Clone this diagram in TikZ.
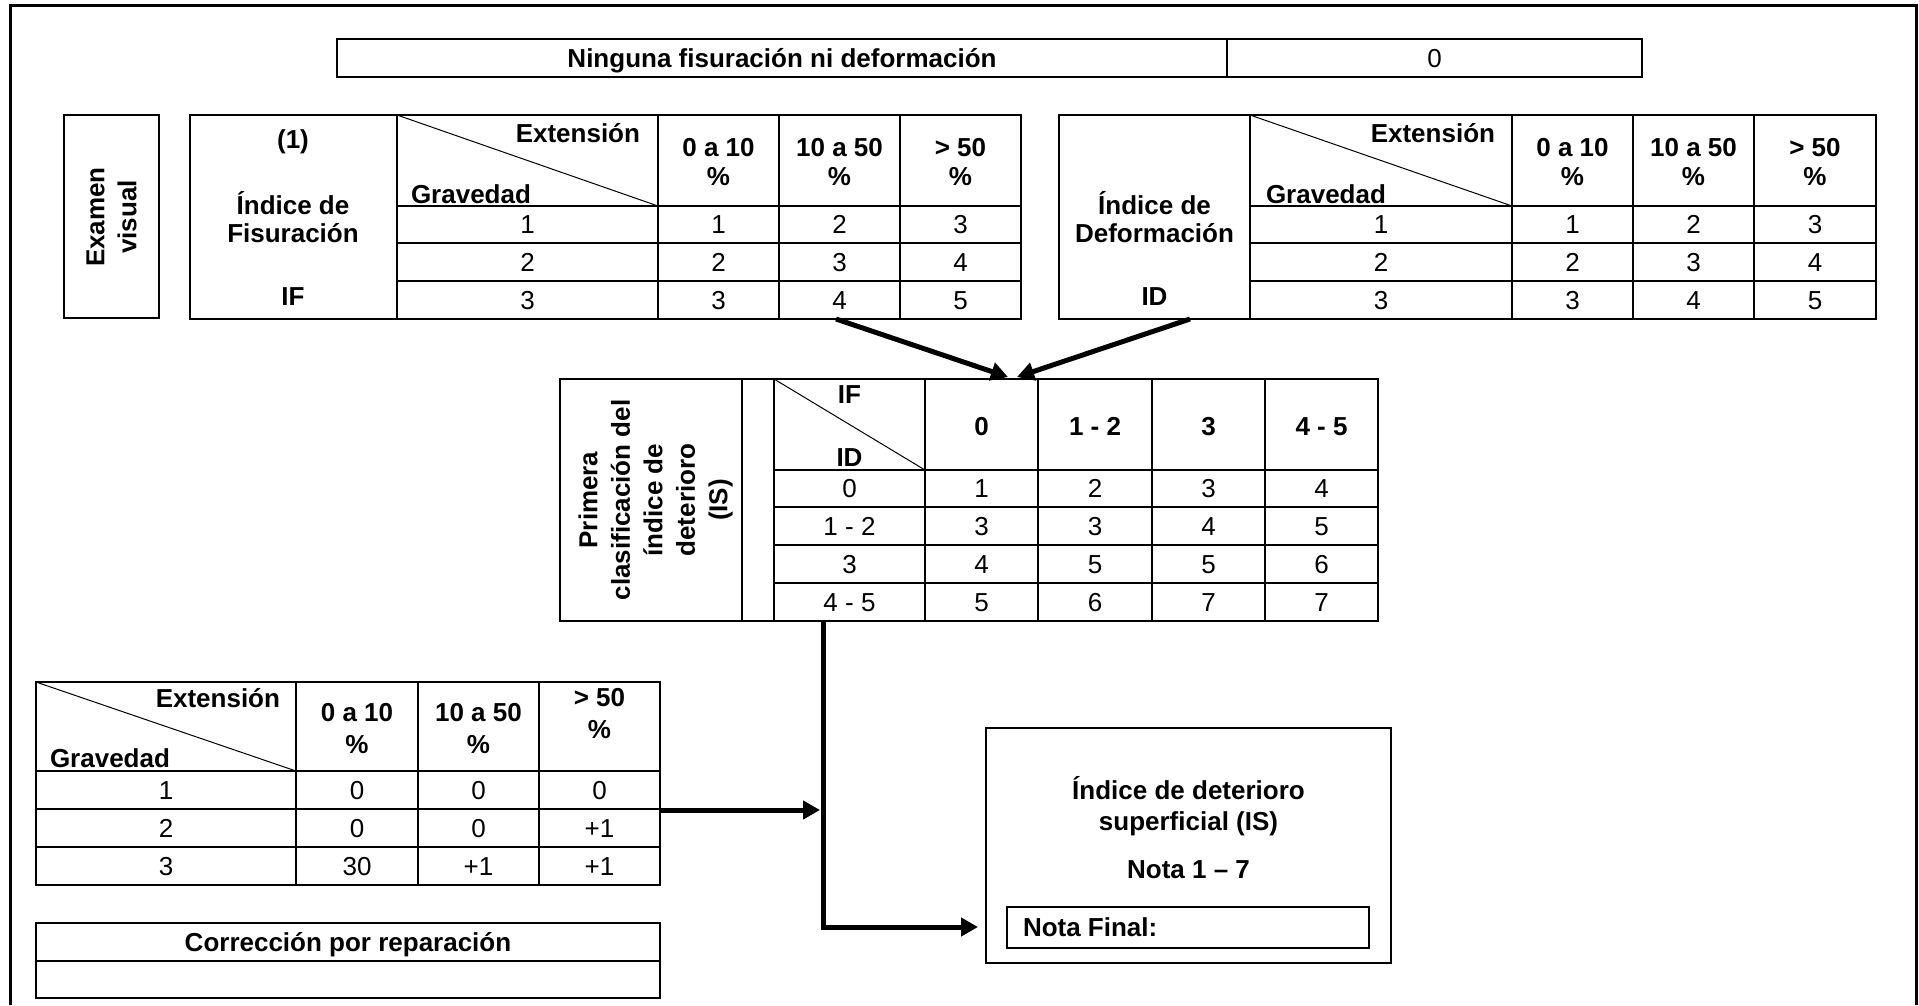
\documentclass[tikz,border=0pt]{standalone}
\usepackage{fontspec}
\setmainfont{Liberation Sans}
\usetikzlibrary{arrows.meta}
\newcommand\Bx[6][]{\node[boxn,#1,minimum width={(#5-#3)*1pt},minimum height={(#6-#4)*1pt}] (#2) at (#3,#4) {};}
\newcommand\Tx[5][txt]{\node[#1] (#2) at (#3,#4) {#5};}
\begin{document}
\begin{tikzpicture}[x=1pt,y=-1pt,
  frame/.style={line width=3pt},
  grid/.style={line width=2pt},
  diag/.style={line width=1pt},
  boxn/.style={draw, line width=2pt, anchor=north west, inner sep=0pt, outer sep=0pt},
  txt/.style={inner sep=0pt, outer sep=0pt, font=\fontsize{26}{30}\selectfont, text height=18.6pt, text depth=0pt},
  btxt/.style={txt, font=\fontsize{26}{30}\selectfont\bfseries},
  flow/.style={line width=5pt, -{Triangle[length=17pt,width=18pt]}}]
\useasboundingbox (0,0) rectangle (1919,1005);
\draw[frame] (10,1005) -- (10,5) -- (1916,5) -- (1916,1005);

% top box
\Bx[line width=2.5pt]{top}{337}{39}{1642}{77}
\draw[grid] (1227,39) -- (1227,77);
\Tx[btxt]{toptxt}{782}{58}{Ninguna fisuración ni deformación}
\Tx{topval}{1434.5}{58}{0}

% Examen visual
\Bx{exam}{64}{115}{159}{318}
\Tx[btxt,rotate=90]{ev1}{95}{217}{Examen}
\Tx[btxt,rotate=90]{ev2}{127}{217}{visual}

% IF table
\Bx{iftab}{190}{115}{1021}{319}
\foreach \x in {397,658,779,900} {\draw[grid] (\x,115) -- (\x,319);}
\foreach \y in {206,243,281} {\draw[grid] (397,\y) -- (1021,\y);}
\draw[diag] (397,115) -- (658,206);
\Tx[btxt]{ifa}{293}{139}{(1)}
\Tx[btxt]{ifb}{293}{205}{Índice de}
\Tx[btxt]{ifc}{293}{233}{Fisuración}
\Tx[btxt]{ifd}{293}{296}{IF}
\Tx[btxt,anchor=east]{ifext}{640}{133}{Extensión}
\Tx[btxt,anchor=west]{ifgrav}{411}{194}{Gravedad}
\Tx[btxt]{ifh1a}{718.5}{147}{0 a 10}
\Tx[btxt]{ifh1b}{718.5}{176}{\%}
\Tx[btxt]{ifh2a}{839.5}{147}{10 a 50}
\Tx[btxt]{ifh2b}{839.5}{176}{\%}
\Tx[btxt]{ifh3a}{960.5}{147}{> 50}
\Tx[btxt]{ifh3b}{960.5}{176}{\%}
\foreach \r/\y in {1/224.5,2/262,3/300} {
  \Tx{ifr\r}{527.5}{\y}{\r}
  \foreach \c/\x in {1/718.5,2/839.5,3/960.5} {
    \pgfmathtruncatemacro\v{\r+\c-1}
    \Tx{ifv\r\c}{\x}{\y}{\v}
  }
}

% ID table
\Bx{idtab}{1059}{115}{1876}{319}
\foreach \x in {1250,1512,1633,1754} {\draw[grid] (\x,115) -- (\x,319);}
\foreach \y in {206,243,281} {\draw[grid] (1250,\y) -- (1876,\y);}
\draw[diag] (1250,115) -- (1512,206);
\Tx[btxt]{idb}{1154.5}{205}{Índice de}
\Tx[btxt]{idc}{1154.5}{233}{Deformación}
\Tx[btxt]{idd}{1154.5}{296}{ID}
\Tx[btxt,anchor=east]{idext}{1495}{133}{Extensión}
\Tx[btxt,anchor=west]{idgrav}{1266}{194}{Gravedad}
\Tx[btxt]{idh1a}{1572.5}{147}{0 a 10}
\Tx[btxt]{idh1b}{1572.5}{176}{\%}
\Tx[btxt]{idh2a}{1693.5}{147}{10 a 50}
\Tx[btxt]{idh2b}{1693.5}{176}{\%}
\Tx[btxt]{idh3a}{1815}{147}{> 50}
\Tx[btxt]{idh3b}{1815}{176}{\%}
\foreach \r/\y in {1/224.5,2/262,3/300} {
  \Tx{idr\r}{1381}{\y}{\r}
  \foreach \c/\x in {1/1572.5,2/1693.5,3/1815} {
    \pgfmathtruncatemacro\v{\r+\c-1}
    \Tx{idv\r\c}{\x}{\y}{\v}
  }
}

% IS table
\Bx{istab}{560}{379}{1378}{621}
\foreach \x in {742,774,925,1038,1152,1265} {\draw[grid] (\x,379) -- (\x,621);}
\foreach \y in {470,507,545,583} {\draw[grid] (774,\y) -- (1378,\y);}
\draw[diag] (774,379) -- (925,470);
\Tx[btxt,rotate=90]{isl1}{588}{500}{Primera}
\Tx[btxt,rotate=90]{isl2}{620.5}{500}{clasificación del}
\Tx[btxt,rotate=90]{isl3}{653}{500}{índice de}
\Tx[btxt,rotate=90]{isl4}{685.5}{500}{deterioro}
\Tx[btxt,rotate=90]{isl5}{718}{500}{(IS)}
\Tx[btxt]{isif}{849.5}{394}{IF}
\Tx[btxt]{isid}{849.5}{457}{ID}
\Tx[btxt]{ish1}{981.5}{426}{0}
\Tx[btxt]{ish2}{1095}{426}{1 - 2}
\Tx[btxt]{ish3}{1208.5}{426}{3}
\Tx[btxt]{ish4}{1321.5}{426}{4 - 5}
\foreach \n/\y/\l/\a/\b/\c/\d in {1/488.5/0/1/2/3/4, 2/526/1 - 2/3/3/4/5, 3/564/3/4/5/5/6, 4/602/4 - 5/5/6/7/7} {
  \Tx{isr\n}{849.5}{\y}{\l}
  \Tx{isv\n a}{981.5}{\y}{\a}
  \Tx{isv\n b}{1095}{\y}{\b}
  \Tx{isv\n c}{1208.5}{\y}{\c}
  \Tx{isv\n d}{1321.5}{\y}{\d}
}

% lower table
\Bx{ltab}{36}{682}{660}{885}
\foreach \x in {296,418,539} {\draw[grid] (\x,682) -- (\x,885);}
\foreach \y in {771,809,847} {\draw[grid] (36,\y) -- (660,\y);}
\draw[diag] (36,682) -- (296,771);
\Tx[btxt,anchor=east]{lext}{280}{698}{Extensión}
\Tx[btxt,anchor=west]{lgrav}{50}{758}{Gravedad}
\Tx[btxt]{lh1a}{357}{712}{0 a 10}
\Tx[btxt]{lh1b}{357}{744}{\%}
\Tx[btxt]{lh2a}{478.5}{712}{10 a 50}
\Tx[btxt]{lh2b}{478.5}{744}{\%}
\Tx[btxt]{lh3a}{599.5}{697}{> 50}
\Tx[btxt]{lh3b}{599.5}{729}{\%}
\foreach \n/\y/\a/\b/\c in {1/790/0/0/0, 2/828/0/0/+1, 3/866/30/+1/+1} {
  \Tx{lr\n}{166}{\y}{\n}
  \Tx{lv\n a}{357}{\y}{\a}
  \Tx{lv\n b}{478.5}{\y}{\b}
  \Tx{lv\n c}{599.5}{\y}{\c}
}

% correccion
\Bx{corr}{36}{923}{660}{998}
\draw[grid] (36,961) -- (660,961);
\Tx[btxt]{corrtxt}{348}{942}{Corrección por reparación}

% result box
\Bx[line width=2.5pt]{res}{986}{728}{1391}{963}
\Bx[line width=2.5pt]{final}{1007}{907}{1369}{948}
\Tx[btxt]{res1}{1188.5}{790}{Índice de deterioro}
\Tx[btxt]{res2}{1188.5}{821}{superficial (IS)}
\Tx[btxt]{res3}{1188.5}{869}{Nota 1 -- 7}
\Tx[btxt,anchor=west]{res4}{1023}{927.5}{Nota Final:}

% connectors
\coordinate (ifo) at (836,319);
\coordinate (ido) at (1190,319);
\coordinate (isin1) at (1008,377);
\coordinate (isin2) at (1017,377);
\coordinate (iso) at (823,621);
\coordinate (bend) at (823,927);
\coordinate (resin) at (978,927);
\coordinate (lto) at (661,810);
\coordinate (junc) at (820,810);
\draw[flow] (ifo) -- (isin1);
\draw[flow] (ido) -- (isin2);
\draw[flow] (iso) -- (bend) -- (resin);
\draw[flow] (lto) -- (junc);
\end{tikzpicture}
\end{document}
